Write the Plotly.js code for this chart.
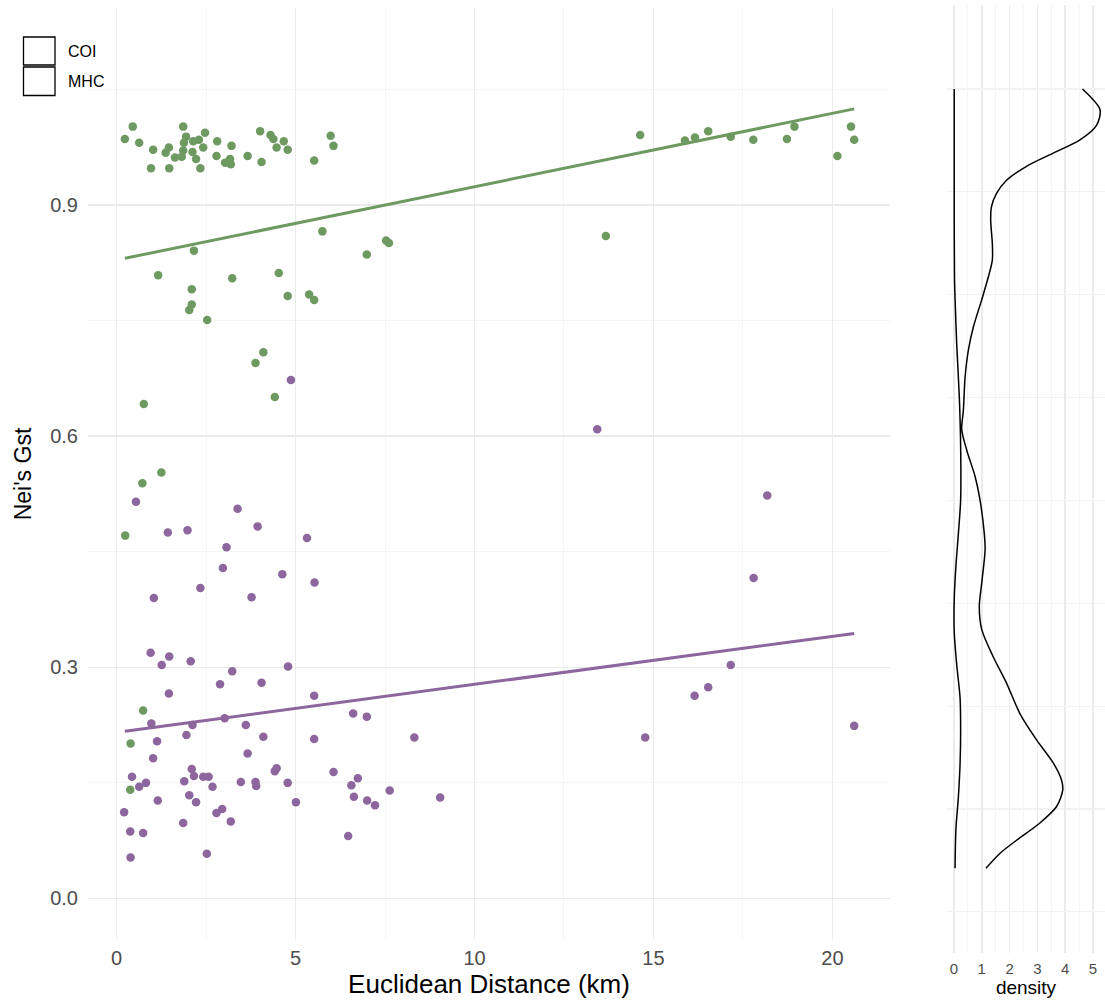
<!DOCTYPE html>
<html>
<head>
<meta charset="utf-8">
<script src="https://cdn.plot.ly/plotly-3.0.1.min.js"></script>
<style>html,body{margin:0;padding:0;background:#fff;}#chart{width:1105px;height:1003px;}</style>
</head>
<body>
<div id="chart"></div>
<script>
// ---- data ----
const coiDist = [0.23,0.45,0.63,1.02,0.96,1.37,1.46,1.47,1.63,1.86,1.94,1.88,1.86,1.82,2.14,2.30,2.47,2.42,2.12,2.22,2.34,2.81,2.79,3.21,3.17,3.03,3.19,3.66,4.01,4.05,4.30,4.38,4.47,4.67,4.78,5.52,5.98,6.06,
  14.63,15.88,16.16,16.53,17.16,17.79,18.73,18.94,20.14,20.52,20.61,
  13.67,5.75,7.53,7.61,6.99,2.16,1.16,2.10,3.23,4.53,4.78,5.38,5.52,2.10,2.03,2.53,4.10,3.88,4.42,0.76,1.25,0.72,0.24,0.74,0.39,0.38];
const coiGst = [0.986,1.002,0.981,0.972,0.948,0.968,0.975,0.948,0.962,1.002,0.989,0.981,0.971,0.963,0.983,0.985,0.994,0.975,0.969,0.960,0.948,0.983,0.964,0.977,0.960,0.955,0.953,0.964,0.996,0.956,0.991,0.986,0.975,0.983,0.972,0.958,0.990,0.977,
  0.991,0.984,0.988,0.996,0.989,0.985,0.986,1.002,0.964,1.002,0.985,
  0.860,0.866,0.854,0.851,0.836,0.841,0.809,0.791,0.805,0.812,0.782,0.784,0.777,0.771,0.764,0.751,0.709,0.695,0.651,0.642,0.553,0.539,0.471,0.244,0.201,0.141];
const mhcDist = [4.87,13.43,0.54,3.38,3.94,1.43,1.98,5.32,3.07,2.97,4.63,5.53,2.34,3.77,1.04,0.95,1.47,1.26,2.07,4.79,3.23,2.89,4.05,1.46,5.52,0.97,2.12,3.02,3.61,1.95,1.13,4.10,1.02,3.66,5.52,6.61,6.99,8.32,
  0.43,0.82,0.63,1.89,2.10,2.16,2.42,2.57,2.68,3.47,3.88,3.90,4.42,4.47,4.78,6.06,6.74,6.56,7.63,9.04,1.15,2.03,2.22,5.01,6.63,7.00,7.22,0.21,2.79,2.95,3.19,1.86,0.38,0.74,6.47,2.52,0.39,
  18.18,17.80,17.16,16.53,16.15,14.77,20.61];
const mhcGst = [0.673,0.609,0.515,0.506,0.483,0.475,0.478,0.468,0.456,0.429,0.421,0.410,0.403,0.391,0.390,0.319,0.314,0.303,0.308,0.301,0.295,0.278,0.280,0.266,0.263,0.227,0.225,0.234,0.225,0.212,0.204,0.210,0.182,0.188,0.207,0.240,0.236,0.209,
  0.158,0.150,0.145,0.152,0.168,0.159,0.158,0.158,0.145,0.151,0.151,0.146,0.165,0.169,0.150,0.164,0.156,0.147,0.140,0.131,0.127,0.134,0.125,0.125,0.132,0.127,0.121,0.112,0.111,0.116,0.100,0.098,0.087,0.085,0.081,0.058,0.053,
  0.523,0.416,0.303,0.274,0.263,0.209,0.224];

// linear fits (end points)
const fitDist = [0.23, 20.61];
const fitCOI = [0.831, 1.025];
const fitMHC = [0.217, 0.344];

// marginal density curves
const densGstA = [1.0,0.975,0.956,0.938,0.922,0.906,0.889,0.873,0.857,0.841,0.812,0.792,0.772,0.744,0.711,0.683,0.650,0.610,0.586,0.561,0.529,0.500,0.460,0.440,0.400,0.371,0.343,0.310,0.278,0.241,0.209,0.181,0.160,0.148,0.128,0.108,0.087,0.071,0.053];
const densA = [4.62,5.25,5.13,4.53,3.57,2.61,1.89,1.53,1.35,1.32,1.38,1.38,1.24,1.00,0.70,0.52,0.40,0.34,0.28,0.46,0.76,0.94,1.09,1.12,1.00,0.91,1.00,1.41,1.89,2.37,2.97,3.57,3.87,3.91,3.69,3.09,2.25,1.65,1.15];
const densGstB = [1.0,0.85,0.77,0.745,0.689,0.628,0.567,0.50,0.46,0.42,0.38,0.34,0.30,0.26,0.22,0.18,0.14,0.10,0.053];
const densB = [0.01,0.01,0.02,0.04,0.10,0.19,0.24,0.24,0.16,0.07,0.01,0.01,0.10,0.22,0.24,0.22,0.16,0.07,0.04];

const legendLabels = ['COI', 'MHC'];
const xTicks = [0, 5, 10, 15, 20];
const yTicks = [0.0, 0.3, 0.6, 0.9];
const densTicks = [0, 1, 2, 3, 4, 5];

// ---- styling ----
const GREEN = '#6E9A62';
const PURPLE = '#8C669C';
const W = 1105, H = 1003;
const px = v => v / W;
const py = v => 1 - v / H;
const FONT = 'Liberation Sans, Arial, sans-serif';

const traces = [
  {x: coiDist, y: coiGst, type: 'scatter', mode: 'markers', name: 'COI points', showlegend: false,
   marker: {color: GREEN, size: 8.5}, xaxis: 'x', yaxis: 'y', hoverinfo: 'x+y'},
  {x: mhcDist, y: mhcGst, type: 'scatter', mode: 'markers', name: 'MHC points', showlegend: false,
   marker: {color: PURPLE, size: 8.5}, xaxis: 'x', yaxis: 'y', hoverinfo: 'x+y'},
  {x: fitDist, y: fitCOI, type: 'scatter', mode: 'lines', showlegend: false,
   line: {color: GREEN, width: 3}, xaxis: 'x', yaxis: 'y'},
  {x: fitDist, y: fitMHC, type: 'scatter', mode: 'lines', showlegend: false,
   line: {color: PURPLE, width: 3}, xaxis: 'x', yaxis: 'y'},
  {x: densA, y: densGstA, type: 'scatter', mode: 'lines', name: legendLabels[0], showlegend: false,
   line: {color: '#000', width: 1.5, shape: 'spline', smoothing: 0.8}, xaxis: 'x2', yaxis: 'y2'},
  {x: densB, y: densGstB, type: 'scatter', mode: 'lines', name: legendLabels[1], showlegend: false,
   line: {color: '#000', width: 1.5, shape: 'spline', smoothing: 0.8}, xaxis: 'x2', yaxis: 'y2'}
];

const gridMajor = '#EBEBEB';
const gridMinor = '#F2F2F2';

const layout = {
  width: W, height: H,
  margin: {l: 0, r: 0, t: 0, b: 0, pad: 0},
  paper_bgcolor: '#fff', plot_bgcolor: 'rgba(0,0,0,0)',
  font: {family: FONT, color: '#4D4D4D'},
  showlegend: false,
  xaxis: {
    domain: [px(88), px(890)], range: [-0.80, 21.61], anchor: 'y',
    tickmode: 'array', tickvals: xTicks, ticktext: xTicks.map(String),
    showgrid: true, gridcolor: gridMajor, gridwidth: 1.6,
    minor: {dtick: 2.5, tick0: 0, showgrid: true, gridcolor: gridMinor, gridwidth: 0.8},
    zeroline: false, showline: false, ticks: '', automargin: false,
    tickfont: {size: 20, color: '#4D4D4D'},
    ticklabelstandoff: 4,
    title: {text: 'Euclidean Distance (km)', font: {size: 26, color: '#000'}, standoff: 4}
  },
  yaxis: {
    domain: [py(940), py(8)], range: [-0.054, 1.156], anchor: 'x',
    tickmode: 'array', tickvals: yTicks, ticktext: yTicks.map(v => v.toFixed(1)),
    showgrid: true, gridcolor: gridMajor, gridwidth: 1.6,
    minor: {dtick: 0.15, tick0: 0, showgrid: true, gridcolor: gridMinor, gridwidth: 0.8},
    zeroline: false, showline: false, ticks: '', automargin: false,
    tickfont: {size: 20, color: '#4D4D4D'},
    ticklabelstandoff: 9,
    title: {text: "Nei's Gst", font: {size: 23, color: '#000'}, standoff: 12}
  },
  xaxis2: {
    domain: [px(947), 1], range: [-0.25, 5.43], anchor: 'y2',
    tickmode: 'array', tickvals: densTicks, ticktext: densTicks.map(String),
    showgrid: true, gridcolor: gridMajor, gridwidth: 1.6,
    minor: {dtick: 0.5, tick0: 0, showgrid: true, gridcolor: gridMinor, gridwidth: 0.8},
    zeroline: false, showline: false, ticks: '', automargin: false,
    tickfont: {size: 15, color: '#4D4D4D'},
    ticklabelstandoff: 5,
    title: {text: 'density', font: {size: 19, color: '#000'}, standoff: 3}
  },
  yaxis2: {
    domain: [py(953), py(5)], range: [-0.050, 1.102], anchor: 'x2',
    dtick: 0.25, tick0: 0,
    showgrid: true, gridcolor: gridMinor, gridwidth: 1.2,
    minor: {dtick: 0.125, tick0: 0, showgrid: true, gridcolor: gridMinor, gridwidth: 1.2},
    zeroline: false, showline: false, ticks: '', showticklabels: false, automargin: false
  },
  shapes: [
    {type: 'rect', xref: 'paper', yref: 'paper', x0: px(23.5), x1: px(55), y0: py(65), y1: py(37),
     line: {color: '#000', width: 1.3}, fillcolor: 'rgba(0,0,0,0)'},
    {type: 'rect', xref: 'paper', yref: 'paper', x0: px(23.5), x1: px(55), y0: py(95.5), y1: py(67),
     line: {color: '#000', width: 1.3}, fillcolor: 'rgba(0,0,0,0)'}
  ],
  annotations: legendLabels.map((t, i) => ({
    text: t, xref: 'paper', yref: 'paper', x: px(66), y: py(51.5 + 30 * i),
    xanchor: 'left', yanchor: 'middle', showarrow: false,
    font: {size: 16, color: '#000', family: FONT}
  }))
};

Plotly.newPlot('chart', traces, layout, {displayModeBar: false, staticPlot: true});
</script>
</body>
</html>
